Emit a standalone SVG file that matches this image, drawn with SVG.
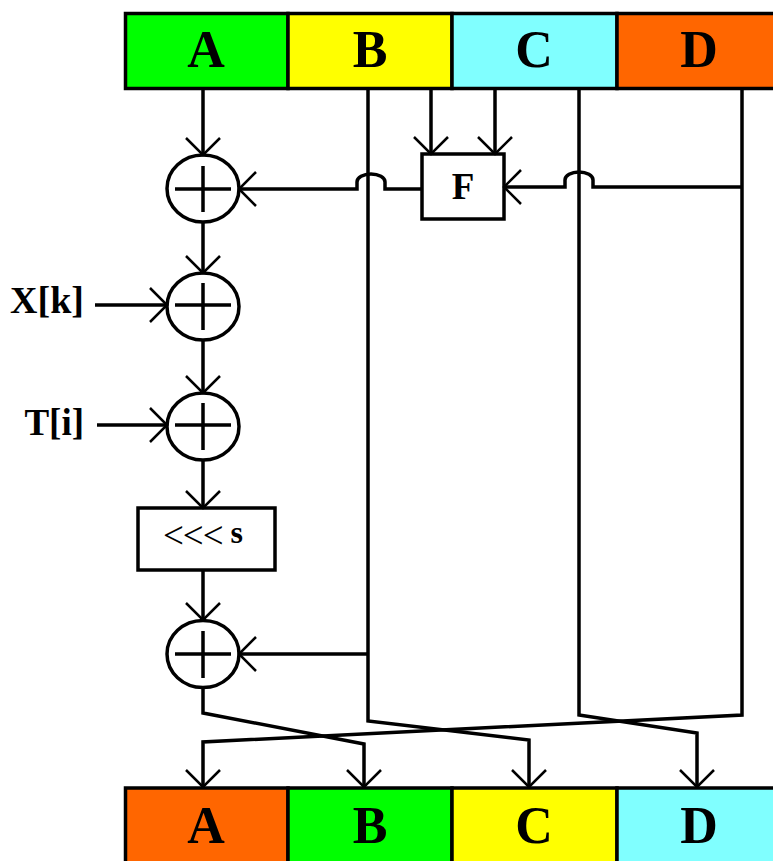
<svg xmlns="http://www.w3.org/2000/svg" width="773" height="861" viewBox="0 0 773 861">
<style>
.cell{stroke:#000;stroke-width:3.5}
.lbl{font-family:"Liberation Serif","Times New Roman",serif;font-weight:bold;fill:#000}
.big{font-size:52px;text-anchor:middle}
.op{fill:#fff;stroke:#000;stroke-width:3.5}
.plus{stroke:#000;stroke-width:3.5;fill:none}
.wire{fill:none;stroke:#000;stroke-width:3.5;stroke-linejoin:miter}
.arr{marker-end:url(#arrow)}
</style>
<defs>
<marker id="arrow" viewBox="-20 -20 24 40" markerWidth="24" markerHeight="40" refX="0" refY="0" orient="auto" markerUnits="userSpaceOnUse">
<path d="M-17,-17 L0,0 L-17,17" fill="none" stroke="#000" stroke-width="2.5"/>
</marker>
</defs>
<rect width="773" height="861" fill="#fff"/>

<g id="topA"><rect class="cell" x="125.5" y="13.5" width="162.5" height="75" fill="#00ff00"/><text class="lbl big" x="206" y="67">A</text></g>
<g id="topB"><rect class="cell" x="288" y="13.5" width="164" height="75" fill="#ffff00"/><text class="lbl big" x="370" y="67">B</text></g>
<g id="topC"><rect class="cell" x="452" y="13.5" width="165" height="75" fill="#80ffff"/><text class="lbl big" x="534" y="67">C</text></g>
<g id="topD"><rect class="cell" x="617" y="13.5" width="170" height="75" fill="#ff6600"/><text class="lbl big" x="699" y="67">D</text></g>

<g id="add1"><ellipse class="op" cx="203" cy="188.5" rx="36" ry="33.5"/><path class="plus" d="M175,189 H231 M203,166 V212"/></g>
<g id="add2"><ellipse class="op" cx="203" cy="306.5" rx="36" ry="33.5"/><path class="plus" d="M175,305 H231 M203,283 V330"/></g>
<g id="add3"><ellipse class="op" cx="203" cy="426.5" rx="36" ry="33.5"/><path class="plus" d="M175,425 H231 M203,403 V450"/></g>
<g id="rot"><rect class="op" x="138" y="508" width="137" height="62"/><text class="lbl" x="203" y="543" font-size="32" text-anchor="middle"><tspan font-weight="normal" font-size="37" letter-spacing="-1" dy="5">&lt;&lt;&lt;</tspan><tspan dy="-5"> s</tspan></text></g>
<g id="add4"><ellipse class="op" cx="203" cy="654" rx="36" ry="33.5"/><path class="plus" d="M175,654 H231 M203,631 V678"/></g>
<g id="F"><rect class="op" x="422" y="154" width="82" height="65"/><text class="lbl" x="463" y="199" font-size="37" text-anchor="middle">F</text></g>
<g id="Xk"><text class="lbl" x="84" y="313" font-size="38" text-anchor="end">X[k]</text></g>
<g id="Ti"><text class="lbl" x="84" y="435" font-size="37" text-anchor="end">T[i]</text></g>

<g id="botA"><rect class="cell" x="125.5" y="788" width="162.5" height="80" fill="#ff6600"/><text class="lbl big" x="206" y="843">A</text></g>
<g id="botB"><rect class="cell" x="288" y="788" width="164" height="80" fill="#00ff00"/><text class="lbl big" x="370" y="843">B</text></g>
<g id="botC"><rect class="cell" x="452" y="788" width="165" height="80" fill="#ffff00"/><text class="lbl big" x="534" y="843">C</text></g>
<g id="botD"><rect class="cell" x="617" y="788" width="170" height="80" fill="#80ffff"/><text class="lbl big" x="699" y="843">D</text></g>

<g id="connectors">
<path class="wire arr" d="M203,89 V155"/>
<path class="wire arr" d="M203,222 V273"/>
<path class="wire arr" d="M203,340 V393"/>
<path class="wire arr" d="M203,460 V508"/>
<path class="wire arr" d="M203,570 V620"/>
<path class="wire arr" d="M203,688 V713 L364,744 V787"/>
<path class="wire arr" d="M368,89 V721 L529,740 V787"/>
<path class="wire arr" d="M431,89 V154"/>
<path class="wire arr" d="M495,89 V154"/>
<path class="wire arr" d="M579,89 V715 L697,733 V787"/>
<path class="wire arr" d="M742,89 V715 L203,742 V787"/>
<path class="wire arr" d="M742,187 H593 V180 A14,8 0 0 0 565,180 V187 H504"/>
<path class="wire arr" d="M422,189 H385 V182 A14,8 0 0 0 357,182 V189 H239"/>
<path class="wire arr" d="M368,654 H239"/>
<path class="wire arr" d="M95,305 H167"/>
<path class="wire arr" d="M97,425 H167"/>
</g>
</svg>
